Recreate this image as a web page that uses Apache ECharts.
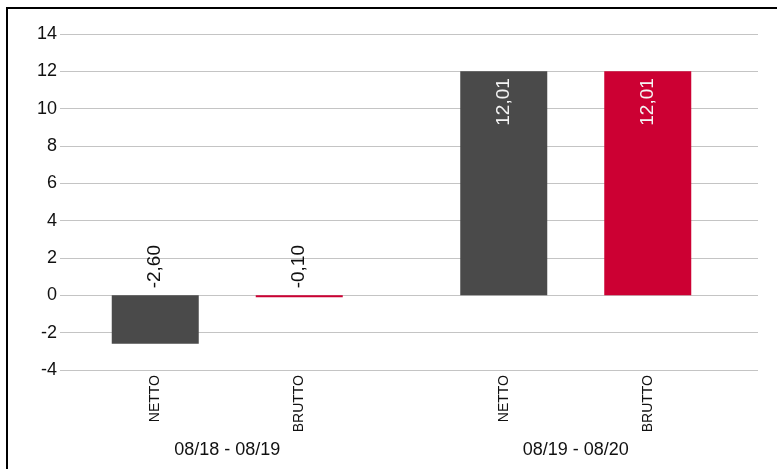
<!DOCTYPE html>
<html style="height:100%;">
<head>
    <meta charset="utf-8">
    <script src="https://cdn.jsdelivr.net/npm/echarts@6/dist/echarts.min.js"></script>
</head>
<body style="height:100%;margin:0;background:#fff;">
    <div id="main" style="width:777px;height:469px;"></div>
<script>
    // data
    var periods = ['08/18 - 08/19', '08/19 - 08/20'];
    var seriesNames = ['NETTO', 'BRUTTO'];
    var nettoValues = [-2.60, 12.01];
    var bruttoValues = [-0.10, 12.01];
    var yTicks = [-4, -2, 0, 2, 4, 6, 8, 10, 12, 14];

    var colors = ['#4a4a4a', '#cc0033'];
    var font = '"Liberation Sans", Arial, Helvetica, sans-serif';
    var barW = 87, gapPx = 57;

    function fmt(v) {
        return v.toFixed(2).replace('.', ',');
    }

    // label on the bar: inside top (white) when positive, above the zero line when negative
    function barData(values) {
        return values.map(function (v) {
            if (v < 0) {
                return { value: v, label: { position: 'top', align: 'left', verticalAlign: 'middle', color: '#111' } };
            }
            return { value: v, label: { position: 'insideTop', align: 'right', verticalAlign: 'middle', color: '#f4f4f4' } };
        });
    }

    function barSeries(idx, values) {
        return {
            name: seriesNames[idx],
            type: 'bar',
            xAxisIndex: 1,
            yAxisIndex: 1,
            barWidth: barW,
            barGap: (gapPx / barW * 100) + '%',
            itemStyle: { color: colors[idx] },
            label: {
                show: true,
                rotate: 90,
                distance: 7,
                fontFamily: font,
                fontSize: 19,
                formatter: function (p) { return fmt(p.value); }
            },
            data: barData(values)
        };
    }

    var option = {
        backgroundColor: '#ffffff',
        animation: false,
        graphic: [{
            type: 'rect',
            shape: { x: 7, y: 8, width: 900, height: 600 },
            style: { fill: 'none', stroke: '#000', lineWidth: 2 },
            z: 100
        }],
        grid: [
            { left: 60, right: 19, top: 34, bottom: 99 },
            { left: 53, right: 27, top: 34, bottom: 99 }
        ],
        xAxis: [
            { type: 'category', gridIndex: 0, data: periods, show: false },
            {
                type: 'category', gridIndex: 1, data: periods,
                axisLine: { show: false },
                axisTick: { show: false },
                axisLabel: { margin: 71, fontFamily: font, fontSize: 18, color: '#111' }
            }
        ],
        yAxis: [
            {
                type: 'value', gridIndex: 0, min: -4, max: 14, interval: 2,
                axisLine: { show: false },
                axisTick: { show: false },
                splitLine: { lineStyle: { color: '#c4c4c4', width: 1 } },
                axisLabel: {
                    margin: 3, fontFamily: font, fontSize: 18, color: '#111',
                    formatter: function (v) { return yTicks.indexOf(v) >= 0 ? String(v) : ''; }
                }
            },
            { type: 'value', gridIndex: 1, min: -4, max: 14, interval: 2, show: false, splitLine: { show: false } }
        ],
        series: [
            barSeries(0, nettoValues),
            barSeries(1, bruttoValues),
            {
                // NETTO / BRUTTO labels under each bar
                type: 'custom',
                xAxisIndex: 1,
                yAxisIndex: 1,
                silent: true,
                data: periods.map(function (p, i) { return [i, -4]; }),
                renderItem: function (params, api) {
                    var pt = api.coord([api.value(0), api.value(1)]);
                    var off = (barW + gapPx) / 2;
                    return {
                        type: 'group',
                        children: seriesNames.map(function (name, k) {
                            return {
                                type: 'text',
                                x: pt[0] + (k === 0 ? -off : off),
                                y: pt[1] + 5,
                                rotation: Math.PI / 2,
                                style: {
                                    text: name,
                                    align: 'right',
                                    verticalAlign: 'middle',
                                    font: '14px ' + font,
                                    fill: '#111'
                                }
                            };
                        })
                    };
                }
            }
        ]
    };

    var chart = echarts.init(document.getElementById('main'));
    chart.setOption(option);
</script>
</body>
</html>
